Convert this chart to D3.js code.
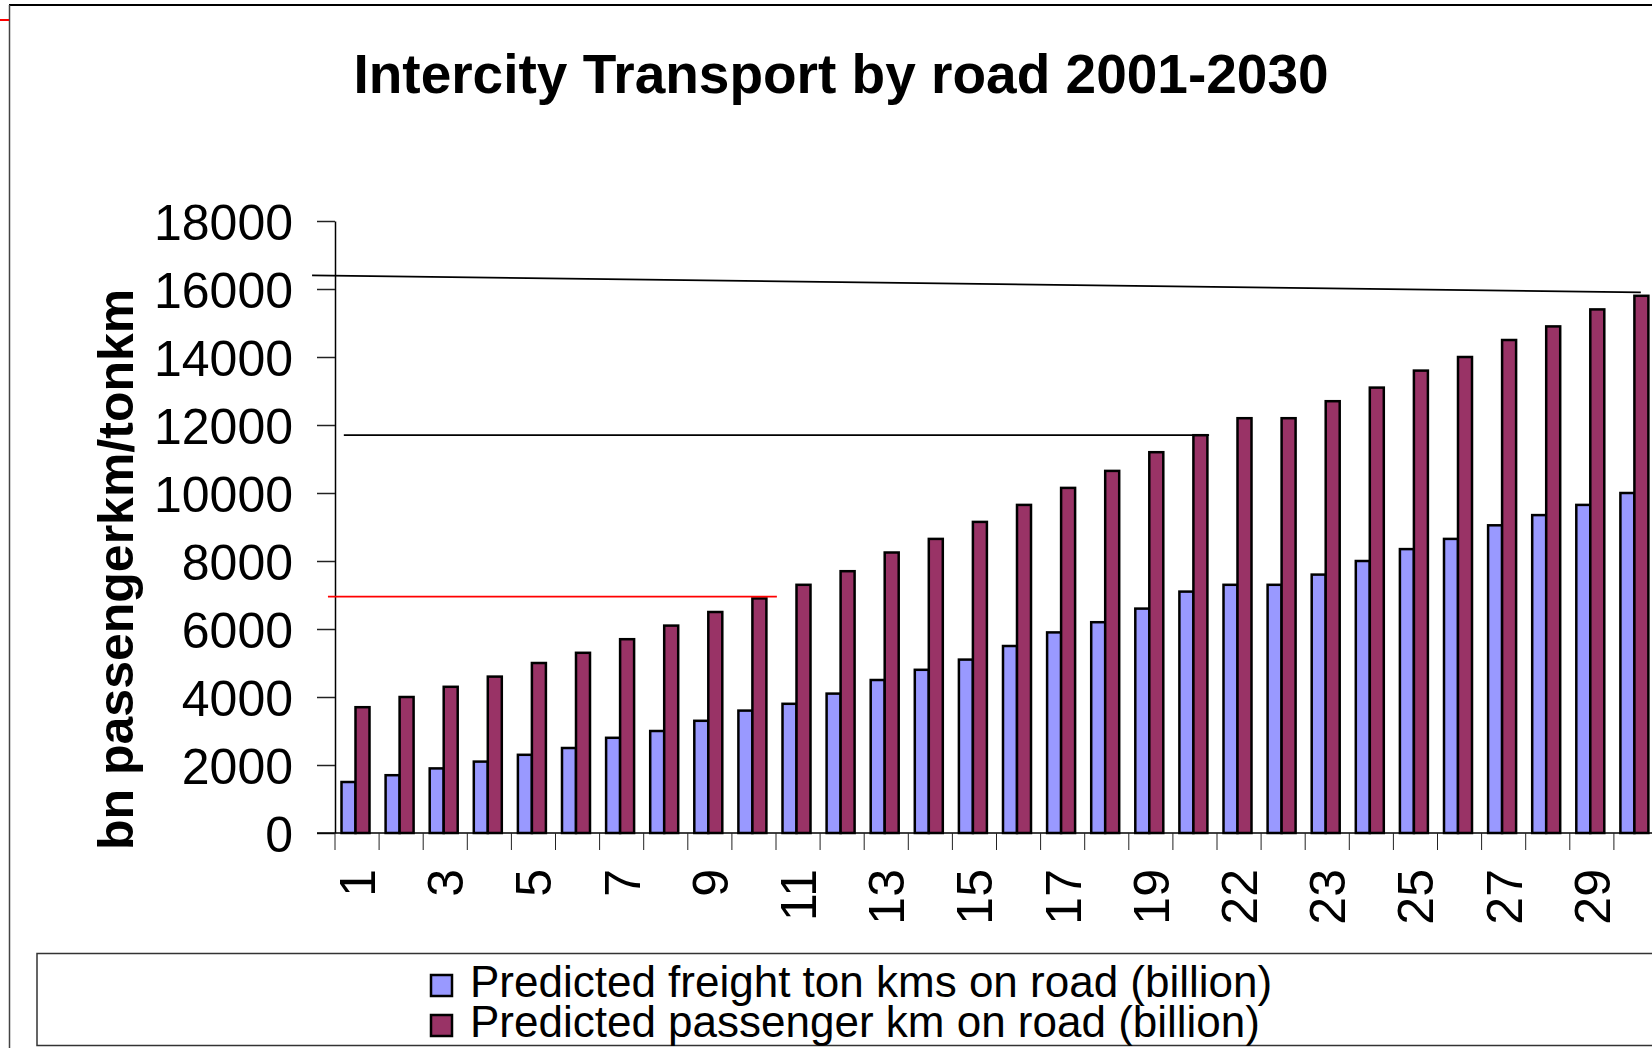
<!DOCTYPE html>
<html>
<head>
<meta charset="utf-8">
<script src="https://cdn.jsdelivr.net/npm/d3@7"></script>
<style>
  body { margin: 0; background: #fff; }
  svg text { font-family: "Liberation Sans", Arial, sans-serif; fill: #000; }
</style>
</head>
<body>
<svg width="1652" height="1048"></svg>
<script>
// **** Data ****
var categories = ["1","2","3","4","5","6","7","8","9","10",
                  "11","12","13","14","15","16","17","18","19","20",
                  "22","22","23","24","25","26","27","28","29","30"];

var freight = [1500,1700,1900,2100,2300,2500,2800,3000,3300,3600,
               3800,4100,4500,4800,5100,5500,5900,6200,6600,7100,
               7300,7300,7600,8000,8350,8650,9050,9350,9650,10000];

var passenger = [3700,4000,4300,4600,5000,5300,5700,6100,6500,6900,
                 7300,7700,8250,8650,9150,9650,10150,10650,11200,11700,
                 12200,12200,12700,13100,13600,14000,14500,14900,15400,15800];

var yTicks = [0,2000,4000,6000,8000,10000,12000,14000,16000,18000];

var seriesNames = ["Predicted freight ton kms on road (billion)",
                   "Predicted passenger km on road (billion)"];

// hand drawn lines on the slide: [category from, value from, category to, value to]
var markLines = [[-0.52,16400,29.61,15900],[0.2,11700,19.82,11700],[-0.16,6950,10.02,6950]];

var svg = d3.select("svg");

// **** Scales ****
var xBand = d3.scaleBand().domain(d3.range(categories.length)).range([335,1658]);
var xSub = d3.scaleBand().domain([0,1]).range([6.5,34.5]);
var xCat = d3.scaleLinear().domain([0,categories.length]).range([335,1658]);
var y = d3.scaleLinear().domain([0,18000]).range([833,221]);

var colors = ["#9999FF","#993366"];

// **** Frame ****
svg.append("line").attr("x1",9).attr("y1",5).attr("x2",1652).attr("y2",5)
    .style("stroke","#000").style("stroke-width",2);
svg.append("line").attr("x1",9.5).attr("y1",5).attr("x2",9.5).attr("y2",1048)
    .style("stroke","#444").style("stroke-width",1.5);
svg.append("line").attr("x1",0).attr("y1",20).attr("x2",9).attr("y2",20)
    .style("stroke","#ff0000").style("stroke-width",2);

// **** Title ****
svg.append("text")
    .attr("x",841).attr("y",93)
    .attr("text-anchor","middle")
    .style("font-size","55px").style("font-weight","bold")
    .text("Intercity Transport by road 2001-2030");

// **** Y axis ****
var yAxis = svg.append("g")
    .attr("transform","translate(335,0)")
    .call(d3.axisLeft(y).tickValues(yTicks).tickSize(18).tickSizeOuter(0).tickPadding(24)
        .tickFormat(d3.format("d")));
yAxis.select(".domain").style("stroke","#000").style("stroke-width",1.5);
yAxis.selectAll(".tick line").style("stroke","#222").style("stroke-width",1.5);
yAxis.selectAll(".tick text")
    .style("font-size","50px")
    .style("font-family","'Liberation Sans', Arial, sans-serif")
    .attr("dy","0.36em");

svg.append("text")
    .attr("transform","translate(133,850) rotate(-90)")
    .attr("text-anchor","start")
    .style("font-size","50px").style("font-weight","bold")
    .text("bn passengerkm/tonkm");

// **** Bars ****
var groups = svg.selectAll("g.cat")
    .data(categories)
    .enter()
    .append("g")
    .attr("class","cat")
    .attr("transform",function(d,i){ return "translate(" + xBand(i) + ",0)"; });

groups.append("rect")
    .attr("x",xSub(0)).attr("width",xSub.bandwidth())
    .attr("y",function(d,i){ return y(freight[i]); })
    .attr("height",function(d,i){ return y(0) - y(freight[i]); })
    .style("fill",colors[0]).style("stroke","#000").style("stroke-width",2.5);

groups.append("rect")
    .attr("x",xSub(1)).attr("width",xSub.bandwidth())
    .attr("y",function(d,i){ return y(passenger[i]); })
    .attr("height",function(d,i){ return y(0) - y(passenger[i]); })
    .style("fill",colors[1]).style("stroke","#000").style("stroke-width",2.5);

// **** X axis ****
svg.append("line")
    .attr("x1",317).attr("x2",1652).attr("y1",y(0)).attr("y2",y(0))
    .style("stroke","#000").style("stroke-width",1.5);

svg.selectAll("line.xtick")
    .data(d3.range(categories.length + 1))
    .enter()
    .append("line")
    .attr("class","xtick")
    .attr("x1",function(i){ return xCat(i); })
    .attr("x2",function(i){ return xCat(i); })
    .attr("y1",y(0)).attr("y2",y(0) + 17)
    .style("stroke","#222").style("stroke-width",1);

groups.filter(function(d,i){ return i % 2 === 0; })
    .append("text")
    .attr("transform","translate(" + (xBand.bandwidth()/2) + ",869) rotate(-90)")
    .attr("text-anchor","end")
    .attr("dy","0.36em")
    .style("font-size","50px")
    .text(function(d){ return d; });

// **** Annotation lines ****
svg.selectAll("line.mark")
    .data(markLines)
    .enter()
    .append("line")
    .attr("class","mark")
    .attr("x1",function(d){ return xCat(d[0]); })
    .attr("y1",function(d){ return y(d[1]); })
    .attr("x2",function(d){ return xCat(d[2]); })
    .attr("y2",function(d){ return y(d[3]); })
    .style("stroke",function(d,i){ return i === 2 ? "#ff0000" : "#000"; })
    .style("stroke-width",1.8);

// **** Legend ****
svg.append("rect")
    .attr("x",37).attr("y",953.5).attr("width",1640).attr("height",92)
    .style("fill","none").style("stroke","#333").style("stroke-width",1.5);

var legend = svg.selectAll("g.legend")
    .data(seriesNames)
    .enter()
    .append("g")
    .attr("class","legend")
    .attr("transform",function(d,i){ return "translate(0," + (i * 40) + ")"; });

legend.append("rect")
    .attr("x",431).attr("y",975).attr("width",21).attr("height",21)
    .style("fill",function(d,i){ return colors[i]; })
    .style("stroke","#000").style("stroke-width",2.5);

legend.append("text")
    .attr("x",470).attr("y",997)
    .style("font-size","44px")
    .text(function(d){ return d; });
</script>
</body>
</html>
